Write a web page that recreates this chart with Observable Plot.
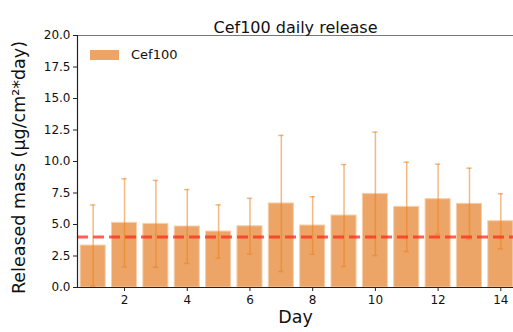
<!DOCTYPE html>
<html>
<head>
<meta charset="utf-8">
<script src="https://cdn.jsdelivr.net/npm/d3@7"></script>
<script src="https://cdn.jsdelivr.net/npm/@observablehq/plot@0.6"></script>
<style>
  html, body { margin: 0; padding: 0; background: #fff; }
  #wrap { position: relative; width: 513px; height: 332px; overflow: hidden; font-family: "DejaVu Sans", sans-serif; }
  #legend { position: absolute; left: 90px; top: 47px; display: flex; align-items: center; font-size: 13px; color: #111; }
  #legend .sw { width: 29px; height: 10px; background: #eca567; margin-right: 12px; }
</style>
</head>
<body>
<div id="wrap">
  <div id="chart"></div>
  <div id="legend"><span class="sw"></span><span id="legtext"></span></div>
</div>
<script>
const seriesName = "Cef100";
const titleText = "Cef100 daily release";
const xLabel = "Day";
const yLabel = "Released mass (μg/cm²*day)";
const days = [1, 2, 3, 4, 5, 6, 7, 8, 9, 10, 11, 12, 13, 14];
const means = [3.33, 5.13, 5.05, 4.84, 4.44, 4.86, 6.67, 4.92, 5.71, 7.43, 6.40, 7.01, 6.64, 5.26];
const sds = [3.22, 3.50, 3.45, 2.93, 2.12, 2.22, 5.40, 2.28, 4.05, 4.90, 3.55, 2.78, 2.83, 2.18];
const threshold = [4.0];
const yTicks = [0, 2.5, 5, 7.5, 10, 12.5, 15, 17.5, 20];
const xTicks = [2, 4, 6, 8, 10, 12, 14];

const data = days.map((d, i) => ({day: d, mean: means[i], lo: means[i] - sds[i], hi: means[i] + sds[i]}));
document.getElementById("legtext").textContent = seriesName;

const errColor = "#ee7f1b";
const chart = Plot.plot({
  width: 513,
  height: 332,
  marginLeft: 77,
  marginTop: 35,
  marginBottom: 45,
  marginRight: 0,
  style: {fontFamily: "DejaVu Sans, sans-serif", color: "#111", background: "white"},
  x: {type: "linear", domain: [0.5, 14.5], range: [77, 516]},
  y: {domain: [0, 20]},
  marks: [
    Plot.rectY(data, {x1: d => d.day - 0.4, x2: d => d.day + 0.4, y1: 0, y2: "mean", fill: "#eca567", stroke: "#f6cfa8", strokeWidth: 1}),
    Plot.ruleX(data, {x: "day", y1: "lo", y2: "hi", stroke: errColor, strokeOpacity: 0.55, strokeWidth: 1.5}),
    Plot.ruleY(data, {y: "hi", x1: d => d.day - 0.085, x2: d => d.day + 0.085, stroke: errColor, strokeOpacity: 0.55, strokeWidth: 1.5}),
    Plot.ruleY(data, {y: "lo", x1: d => d.day - 0.085, x2: d => d.day + 0.085, stroke: errColor, strokeOpacity: 0.55, strokeWidth: 1.5}),
    Plot.ruleY(threshold, {y: d => d, stroke: "#ff2a1a", strokeOpacity: 0.75, strokeWidth: 3, strokeDasharray: "11,5"}),
    Plot.ruleY([20], {stroke: "#777", strokeWidth: 1.2}),
    Plot.ruleY([0], {stroke: "#222", strokeWidth: 1.2}),
    Plot.ruleX([0.5], {stroke: "#222", strokeWidth: 1.2}),
    Plot.axisY({ticks: yTicks, tickFormat: d3.format(".1f"), tickSize: 4, tickPadding: 3, fontSize: 12, label: null, stroke: "#222"}),
    Plot.axisX({ticks: xTicks, tickFormat: d3.format("d"), tickSize: 4, tickPadding: 4, fontSize: 12, label: null, stroke: "#222"}),
    Plot.text([titleText], {text: d => d, frameAnchor: "top", dy: -14, fontSize: 16, fill: "#111"}),
    Plot.text([xLabel], {text: d => d, frameAnchor: "bottom", dy: 35, fontSize: 17.5, fill: "#111"}),
    Plot.text([yLabel], {text: d => d, frameAnchor: "left", textAnchor: "middle", rotate: -90, dx: -58, dy: 6, fontSize: 17.5, fill: "#111"})
  ]
});
document.getElementById("chart").appendChild(chart);
</script>
</body>
</html>
